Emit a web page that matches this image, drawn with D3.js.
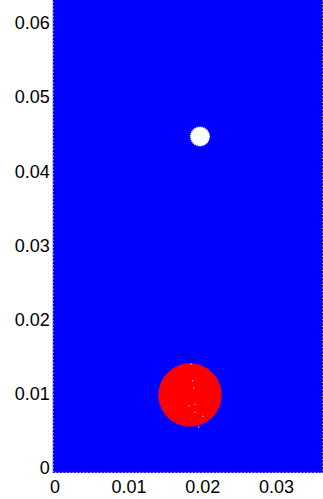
<!DOCTYPE html>
<html>
<head>
<meta charset="utf-8">
<script src="https://cdn.jsdelivr.net/npm/d3@7/dist/d3.min.js"></script>
<style>
  html, body { margin: 0; padding: 0; background: #fff; }
  svg { display: block; }
  .tick text { font-family: "Liberation Sans", Arial, sans-serif; font-size: 18px; fill: #000; }
</style>
</head>
<body>
<svg id="chart" width="323" height="499"></svg>
<script>
// Tick values for both axes
const xTicks = [0, 0.01, 0.02, 0.03];
const yTicks = [0, 0.01, 0.02, 0.03, 0.04, 0.05, 0.06];

// Extent of the particle domain (blue phase)
const domainX = [-0.00025, 0.0364];
const domainY = [-0.0007, 0.0636];

// Large red drop: centre and radius
const dropCenter = [0.01835, 0.00981];
const dropRadius = 0.00426;

// Small white bubble: centre and radius
const bubbleCenter = [0.0197, 0.0447];
const bubbleRadius = 0.00128;

// Stray light particles inside the drop
const strayX = [0.01848, 0.01871, 0.01885, 0.01821, 0.01902, 0.01902, 0.02011, 0.01953];
const strayY = [0.01399, 0.01174, 0.01076, 0.00837, 0.00853, 0.00749, 0.00695, 0.00550];

const svg = d3.select("#chart");

// Equal-aspect linear scales
const x = d3.scaleLinear().domain([0, 0.01]).range([54.6, 128.4]);
const y = d3.scaleLinear().domain([0, 0.01]).range([467.7, 393.6]);

// Blue phase filling the tank
svg.append("rect")
  .attr("x", x(domainX[0]))
  .attr("y", y(domainY[1]))
  .attr("width", x(domainX[1]) - x(domainX[0]))
  .attr("height", y(domainY[0]) - y(domainY[1]))
  .attr("fill", "#0000ff");

// Dotted particle rim along the tank edge
svg.append("rect")
  .attr("x", x(domainX[0]) + 0.5)
  .attr("y", y(domainY[1]) + 0.5)
  .attr("width", x(domainX[1]) - x(domainX[0]) - 1)
  .attr("height", y(domainY[0]) - y(domainY[1]) - 1)
  .attr("fill", "none")
  .attr("stroke", "#dfe3ff")
  .attr("stroke-width", 1)
  .attr("stroke-dasharray", "1 2.5");

// Red drop
svg.append("circle")
  .attr("cx", x(dropCenter[0]))
  .attr("cy", y(dropCenter[1]))
  .attr("r", x(dropRadius) - x(0))
  .attr("fill", "#ff0000")
  .attr("stroke", "#f00a3a")
  .attr("stroke-width", 1)
  .attr("stroke-dasharray", "1.5 1.5");

// Stray particles
svg.selectAll("circle.stray")
  .data(strayX.map((v, i) => [v, strayY[i]]))
  .join("circle")
  .attr("class", "stray")
  .attr("cx", d => x(d[0]))
  .attr("cy", d => y(d[1]))
  .attr("r", 0.8)
  .attr("fill", "#ffb0b0");

// White bubble
svg.append("circle")
  .attr("cx", x(bubbleCenter[0]))
  .attr("cy", y(bubbleCenter[1]))
  .attr("r", x(bubbleRadius) - x(0))
  .attr("fill", "#ffffff")
  .attr("stroke", "#ffffff")
  .attr("stroke-width", 1.2)
  .attr("stroke-dasharray", "1 1");

// Axes
const xAxis = d3.axisBottom(x)
  .tickValues(xTicks)
  .tickSize(0)
  .tickPadding(7)
  .tickFormat(d => String(d));
svg.append("g")
  .attr("transform", `translate(0,${y(domainY[0])})`)
  .call(xAxis)
  .call(g => g.select(".domain").remove());

const yAxis = d3.axisLeft(y)
  .tickValues(yTicks)
  .tickSize(0)
  .tickPadding(3)
  .tickFormat(d => String(d));
svg.append("g")
  .attr("transform", `translate(${x(domainX[0])},0)`)
  .call(yAxis)
  .call(g => g.select(".domain").remove());
</script>
</body>
</html>
